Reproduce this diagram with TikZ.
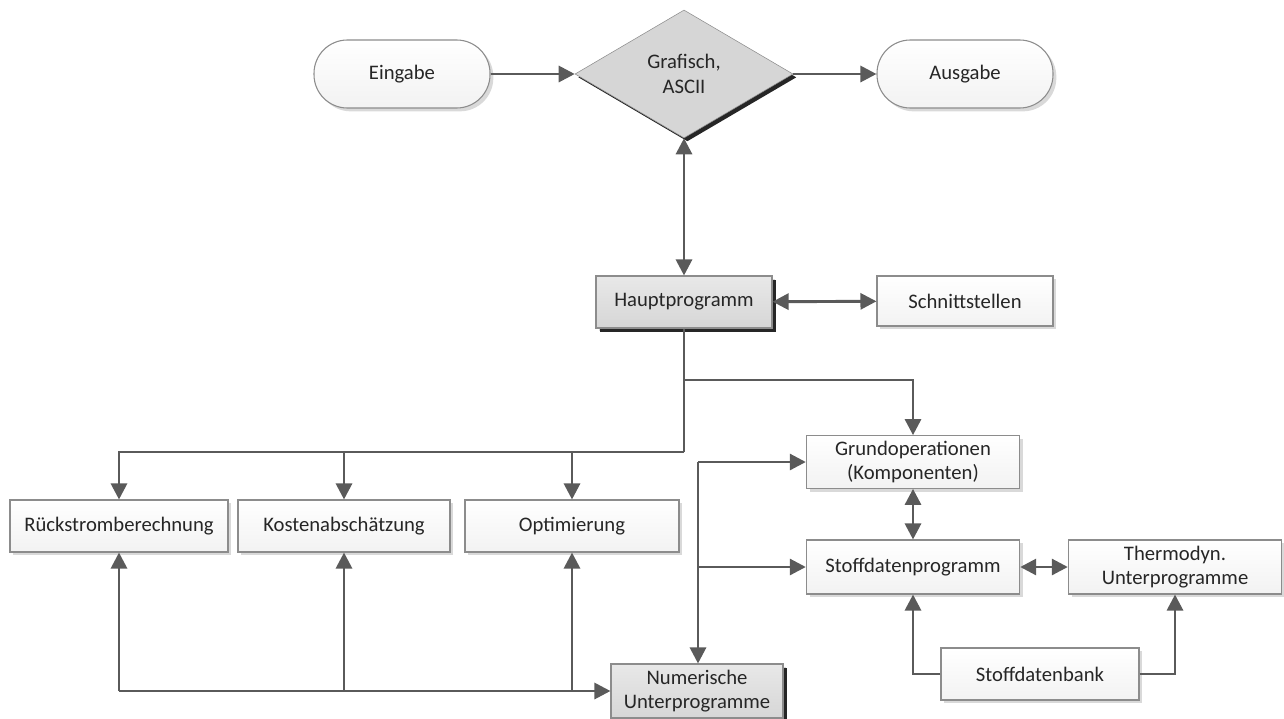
\documentclass[tikz,border=0pt]{standalone}
\usepackage{fontspec}
\setmainfont{Carlito}
\usetikzlibrary{shapes.geometric,shadows,arrows.meta}
\definecolor{linie}{RGB}{90,90,90}
\definecolor{rand}{RGB}{140,140,140}
\definecolor{schrift}{RGB}{38,38,38}

\begin{document}
\begin{tikzpicture}[x=0.75pt,y=-0.75pt,
  font=\fontsize{15.5}{18.5}\selectfont, text=schrift,
  kasten/.style={draw=rand, line width=0.8pt, top color=white, bottom color=gray!10,
    align=center, inner sep=2pt,
    drop shadow={shadow xshift=2.5pt, shadow yshift=-2.5pt, fill=gray!30, opacity=1}},
  grau/.style={kasten, top color=gray!18, bottom color=gray!32,
    drop shadow={shadow xshift=3pt, shadow yshift=-3pt, fill=black!85, opacity=1}},
  ende/.style={kasten, rounded corners=25pt, minimum width=132pt, minimum height=51pt},
  pfeil/.style={draw=linie, line width=2.2pt, -{Triangle[length=12pt,width=12pt]}},
  doppel/.style={pfeil, {Triangle[length=12pt,width=12pt]}-{Triangle[length=12pt,width=12pt]}},
  linie/.style={draw=linie, line width=2.2pt}]
\useasboundingbox (0,0) rectangle (1284,718);

% obere Reihe
\node[ende] (eingabe) at (402,74) {Eingabe};
\node[diamond, draw=rand, fill=gray!32, aspect=1.7, inner sep=0pt,
  minimum width=163.5pt, minimum height=96pt, align=center,
  drop shadow={shadow xshift=2.5pt, shadow yshift=-2.5pt, fill=black!85, opacity=1}]
  (format) at (684,74) {Grafisch,\\ASCII};
\node[ende] (ausgabe) at (965,74) {Ausgabe};

% Hauptprogramm
\node[grau, minimum width=132pt, minimum height=39pt] (haupt) at (684,302) {Hauptprogramm};
\node[kasten, minimum width=132pt, minimum height=37.5pt] (schnitt) at (965,301) {Schnittstellen};

% untere Reihe
\node[kasten, minimum width=163.5pt, minimum height=39pt] (rueck) at (119,526) {Rückstromberechnung};
\node[kasten, minimum width=159pt, minimum height=39pt] (kosten) at (344,526) {Kostenabschätzung};
\node[kasten, minimum width=160.5pt, minimum height=39pt] (optim) at (572,526) {Optimierung};
\node[grau, minimum width=129pt, minimum height=40.5pt] (numer) at (697,691) {Numerische\\Unterprogramme};

% Stoffdaten
\node[kasten, minimum width=160pt, minimum height=39.5pt] (grund) at (913,462) {Grundoperationen\\(Komponenten)};
\node[kasten, minimum width=160pt, minimum height=40.5pt] (stoff) at (913,567) {Stoffdatenprogramm};
\node[kasten, minimum width=160pt, minimum height=40.5pt] (thermo) at (1175,567) {Thermodyn.\\Unterprogramme};
\node[kasten, minimum width=148.5pt, minimum height=39pt] (bank) at (1040,674) {Stoffdatenbank};

\coordinate (knoten) at (684,452);
\coordinate (oben) at (698,462);

\draw[pfeil] (eingabe) -- (format);
\draw[pfeil] (format) -- (ausgabe);
\draw[doppel] (format.south) -- (haupt.north);
\draw[doppel] (haupt) -- (schnitt);

\draw[linie] (haupt.south) -- (knoten);
\draw[pfeil] (haupt.south |- 0,380) -| (grund.north);
\draw[pfeil] (knoten) -| (rueck.north);
\draw[pfeil] (kosten.north |- knoten) -- (kosten.north);
\draw[pfeil] (optim.north |- knoten) -- (optim.north);

\draw[pfeil] (rueck.south |- numer.west) -- (numer.west);
\draw[pfeil] (rueck.south |- numer.west) -- (rueck.south);
\draw[pfeil] (kosten.south |- numer.west) -- (kosten.south);
\draw[pfeil] (optim.south |- numer.west) -- (optim.south);

\draw[pfeil] (oben |- grund.west) -- (grund.west);
\draw[pfeil] (oben |- grund.west) -- (oben |- numer.north);
\draw[pfeil] (oben |- stoff.west) -- (stoff.west);

\draw[doppel] (grund) -- (stoff);
\draw[doppel] (stoff) -- (thermo);
\draw[pfeil] (bank.west) -| (stoff.south);
\draw[pfeil] (bank.east) -| (thermo.south);
\end{tikzpicture}
\end{document}
